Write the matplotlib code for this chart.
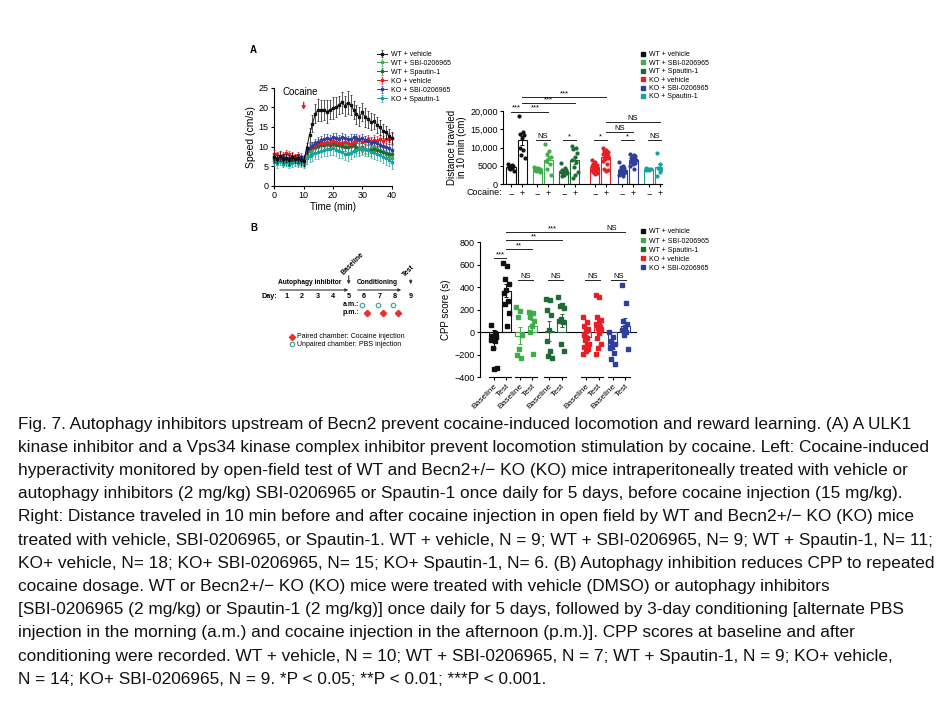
import numpy as np
import matplotlib.pyplot as plt
from matplotlib.lines import Line2D

plt.rcParams['font.family'] = ['Liberation Sans', 'DejaVu Sans']
plt.rcParams['axes.linewidth'] = 0.8
plt.rcParams['xtick.major.width'] = 0.8
plt.rcParams['ytick.major.width'] = 0.8
plt.rcParams['xtick.major.size'] = 2.5
plt.rcParams['ytick.major.size'] = 2.5
plt.rcParams['xtick.labelsize'] = 6.5
plt.rcParams['ytick.labelsize'] = 6.5

W, H = 945, 709

# ---------------- data ----------------
groups = ['WT + vehicle', 'WT + SBI-0206965', 'WT + Spautin-1',
          'KO + vehicle', 'KO + SBI-0206965', 'KO + Spautin-1']
colors = ['#111111', '#3dae49', '#1e6b34', '#e41f26', '#2e3f9c', '#17a2a0']

# A left: speed (cm/s) per minute, 0..40 min
time_min = list(range(41))
wt_veh_speed = [7.2, 6.8, 7.5, 6.9, 7.0, 6.6, 7.3, 6.8, 7.0, 6.5, 6.2,
                9.5, 13.0, 15.8, 18.4, 19.4, 19.2, 19.3, 18.9, 19.4, 19.8,
                20.0, 20.6, 21.3, 20.4, 21.2, 20.6, 19.4, 18.2, 17.6, 18.8,
                17.4, 16.9, 16.3, 16.4, 15.5, 14.9, 14.0, 13.6, 12.8, 12.2]
wt_sbi_speed = [6.5, 6.2, 6.8, 6.0, 6.4, 6.1, 6.6, 6.3, 6.0, 6.2, 5.8,
                8.0, 8.8, 9.2, 9.6, 10.0, 10.3, 10.5, 10.8, 10.6, 11.0,
                11.2, 10.9, 10.7, 10.3, 10.0, 10.4, 10.1, 9.6, 9.3, 9.0,
                9.4, 9.1, 9.6, 9.8, 9.3, 9.0, 8.6, 8.2, 7.6, 7.0]
wt_spa_speed = [6.8, 6.4, 6.9, 6.5, 6.2, 6.7, 6.3, 6.6, 6.4, 6.5, 6.0,
                9.0, 9.5, 9.8, 10.0, 10.2, 10.4, 10.3, 10.6, 10.5, 10.7,
                10.5, 10.4, 10.2, 10.0, 9.8, 10.1, 10.3, 9.9, 9.6, 9.8,
                9.4, 9.2, 9.0, 9.3, 9.0, 8.8, 8.6, 8.4, 8.2, 8.0]
ko_veh_speed = [8.2, 8.0, 7.6, 7.8, 8.3, 8.0, 7.7, 7.5, 7.9, 7.4, 7.0,
                8.5, 9.5, 10.0, 10.5, 10.8, 10.9, 11.0, 11.2, 11.0, 11.3,
                11.1, 11.0, 10.8, 11.2, 11.0, 10.7, 11.1, 11.4, 11.6, 11.2,
                11.5, 11.8, 11.3, 11.6, 11.4, 11.9, 11.5, 11.8, 12.0, 12.2]
ko_sbi_speed = [7.3, 7.0, 6.8, 7.2, 6.9, 7.1, 6.7, 7.0, 6.8, 7.2, 6.5,
                8.8, 9.6, 10.2, 10.8, 11.2, 11.6, 11.9, 12.2, 12.0, 12.4,
                12.2, 12.0, 12.3, 12.1, 11.8, 12.0, 12.3, 12.1, 11.9, 12.2,
                11.7, 11.4, 11.0, 11.2, 10.8, 10.5, 10.2, 10.0, 9.6, 9.2]
ko_spa_speed = [6.0, 5.8, 6.3, 5.6, 6.1, 5.4, 5.9, 6.2, 5.7, 6.0, 5.5,
                7.0, 7.5, 8.0, 8.3, 8.6, 8.9, 9.1, 9.3, 9.4, 9.6,
                9.2, 8.8, 8.5, 8.2, 8.0, 8.4, 8.8, 9.2, 9.5, 9.6,
                9.3, 9.0, 8.6, 8.5, 8.1, 7.8, 7.4, 7.0, 6.5, 6.0]

wt_veh_err = [1.2, 1.0, 1.3, 1.1, 1.0, 1.2, 1.1, 1.0, 1.2, 1.1, 1.3,
              1.5, 1.8, 2.2, 2.5, 2.8, 2.7, 2.6, 2.9, 2.5, 2.8,
              2.6, 2.4, 2.7, 2.5, 2.9, 2.6, 2.3, 2.5, 2.4, 2.2,
              2.3, 2.1, 2.2, 2.0, 2.1, 1.9, 1.8, 1.7, 1.6, 1.5]
wt_sbi_err = [1.0, 0.9, 1.1, 1.0, 0.8, 1.0, 1.1, 0.9, 1.0, 1.2, 1.0,
              1.3, 1.4, 1.5, 1.4, 1.6, 1.5, 1.4, 1.6, 1.5, 1.4,
              1.5, 1.6, 1.4, 1.5, 1.3, 1.4, 1.5, 1.3, 1.4, 1.2,
              1.3, 1.4, 1.3, 1.2, 1.3, 1.4, 1.2, 1.3, 1.4, 1.5]
wt_spa_err = [0.9, 1.0, 0.8, 1.1, 0.9, 1.0, 0.8, 0.9, 1.0, 0.9, 1.1,
              1.2, 1.3, 1.2, 1.4, 1.3, 1.2, 1.4, 1.3, 1.2, 1.3,
              1.4, 1.2, 1.3, 1.1, 1.2, 1.3, 1.2, 1.1, 1.3, 1.2,
              1.1, 1.2, 1.3, 1.1, 1.2, 1.0, 1.1, 1.2, 1.1, 1.0]
ko_veh_err = [0.8, 0.7, 0.9, 0.8, 0.7, 0.8, 0.9, 0.7, 0.8, 0.9, 0.8,
              0.9, 1.0, 1.1, 1.0, 1.1, 1.2, 1.0, 1.1, 1.2, 1.1,
              1.0, 1.2, 1.1, 1.0, 1.2, 1.1, 1.3, 1.2, 1.1, 1.2,
              1.3, 1.2, 1.1, 1.3, 1.2, 1.1, 1.3, 1.2, 1.4, 1.3]
ko_sbi_err = [0.8, 0.9, 0.7, 0.8, 0.9, 0.8, 0.7, 0.9, 0.8, 0.7, 0.9,
              1.0, 1.1, 1.0, 1.2, 1.1, 1.0, 1.2, 1.1, 1.0, 1.1,
              1.2, 1.0, 1.1, 1.2, 1.0, 1.1, 1.0, 1.2, 1.1, 1.0,
              1.1, 1.0, 1.2, 1.1, 1.0, 1.1, 1.2, 1.0, 1.1, 1.2]
ko_spa_err = [1.0, 1.2, 1.1, 0.9, 1.2, 1.0, 1.1, 1.3, 1.0, 1.2, 1.1,
              1.4, 1.5, 1.6, 1.5, 1.7, 1.6, 1.5, 1.7, 1.6, 1.8,
              1.6, 1.7, 1.5, 1.6, 1.7, 1.5, 1.6, 1.7, 1.8, 1.6,
              1.7, 1.5, 1.6, 1.7, 1.5, 1.6, 1.7, 1.8, 1.6, 1.7]

speeds = [wt_veh_speed, wt_sbi_speed, wt_spa_speed, ko_veh_speed, ko_sbi_speed, ko_spa_speed]
speed_errs = [wt_veh_err, wt_sbi_err, wt_spa_err, ko_veh_err, ko_sbi_err, ko_spa_err]

# A right: distance traveled in 10 min (cm), before (-) and after (+) cocaine
dist_pre = [
    [5400, 5100, 5000, 4800, 4700, 4500, 4300, 4000, 3600],
    [4700, 4500, 4300, 4100, 4000, 3800, 3600, 3500, 3200],
    [5800, 4300, 3900, 3700, 3500, 3400, 3200, 3000, 2900, 2600, 2200],
    [6500, 6000, 5600, 5300, 5100, 5000, 4800, 4600, 4500, 4400, 4300, 4100, 4000, 3800, 3500, 3200, 3000, 2700],
    [6000, 5000, 4600, 4300, 4000, 3800, 3700, 3500, 3400, 3300, 3200, 3000, 2800, 2600, 2300],
    [4300, 4200, 4100, 4000, 3900, 3800],
]
dist_post = [
    [18700, 14300, 13800, 13400, 12700, 10000, 9300, 8000, 7000],
    [11000, 9000, 8200, 7500, 6800, 6300, 5500, 4000, 2600],
    [10400, 10000, 9500, 8400, 7500, 6600, 6100, 4700, 3400, 2500, 1600],
    [9800, 9400, 9100, 8800, 8600, 8300, 8100, 7900, 7700, 7400, 7200, 7000, 6800, 6400, 5500, 4200, 3900, 3600],
    [8300, 8000, 7800, 7600, 7300, 7100, 6900, 6700, 6500, 6300, 6100, 5800, 5400, 4900, 4200],
    [8600, 5400, 4500, 4100, 3200, 2300],
]
dist_pre_mean = [4700, 4000, 3500, 4600, 3700, 4050]
dist_pre_sem = [250, 180, 300, 250, 250, 80]
dist_post_mean = [12000, 6700, 6500, 7300, 6500, 4700]
dist_post_sem = [1200, 900, 900, 450, 300, 900]

# B right: CPP score (s), baseline and test
cpp_groups = groups[:5]
cpp_base = [
    [65, -10, -30, -45, -55, -65, -80, -140, -320, -330],
    [225, 185, 140, -20, -150, -200, -230],
    [300, 290, 200, 150, 20, -80, -170, -210, -230],
    [140, 90, 60, 30, 10, -20, -50, -70, -100, -110, -130, -150, -170, -190],
    [0, -40, -80, -100, -120, -140, -180, -240, -280],
]
cpp_test = [
    [620, 590, 470, 430, 380, 350, 280, 250, 170, 60],
    [180, 175, 140, 100, 60, 0, -190],
    [310, 240, 230, 220, 120, 100, 90, -100, -170],
    [330, 310, 140, 110, 90, 70, 50, 40, 20, -10, -50, -100, -140, -190],
    [420, 260, 100, 70, 50, 20, 0, -20, -150],
]
cpp_base_mean = [-60, -30, 10, -45, -115]
cpp_base_sem = [80, 75, 90, 25, 30]
cpp_test_mean = [370, 55, 105, 45, 55]
cpp_test_sem = [55, 50, 55, 40, 70]

days = [1, 2, 3, 4, 5, 6, 7, 8, 9]

caption = [
    "Fig. 7. Autophagy inhibitors upstream of Becn2 prevent cocaine-induced locomotion and reward learning. (A) A ULK1",
    "kinase inhibitor and a Vps34 kinase complex inhibitor prevent locomotion stimulation by cocaine. Left: Cocaine-induced",
    "hyperactivity monitored by open-field test of WT and Becn2+/\u2212 KO (KO) mice intraperitoneally treated with vehicle or",
    "autophagy inhibitors (2 mg/kg) SBI-0206965 or Spautin-1 once daily for 5 days, before cocaine injection (15 mg/kg).",
    "Right: Distance traveled in 10 min before and after cocaine injection in open field by WT and Becn2+/\u2212 KO (KO) mice",
    "treated with vehicle, SBI-0206965, or Spautin-1. WT + vehicle, N = 9; WT + SBI-0206965, N= 9; WT + Spautin-1, N= 11;",
    "KO+ vehicle, N= 18; KO+ SBI-0206965, N= 15; KO+ Spautin-1, N= 6. (B) Autophagy inhibition reduces CPP to repeated",
    "cocaine dosage. WT or Becn2+/\u2212 KO (KO) mice were treated with vehicle (DMSO) or autophagy inhibitors",
    "[SBI-0206965 (2 mg/kg) or Spautin-1 (2 mg/kg)] once daily for 5 days, followed by 3-day conditioning [alternate PBS",
    "injection in the morning (a.m.) and cocaine injection in the afternoon (p.m.)]. CPP scores at baseline and after",
    "conditioning were recorded. WT + vehicle, N = 10; WT + SBI-0206965, N = 7; WT + Spautin-1, N = 9; KO+ vehicle,",
    "N = 14; KO+ SBI-0206965, N = 9. *P < 0.05; **P < 0.01; ***P < 0.001.",
]


def rect(x0, y0, x1, y1):
    # pixel box (y measured from top) -> figure fraction
    return [x0 / W, 1 - y1 / H, (x1 - x0) / W, (y1 - y0) / H]


def jitter(n, width):
    return ((np.arange(n) * 0.618) % 1 - 0.5) * width


def sig(ax, x0, x1, y, label, fs=5.5):
    ax.plot([x0, x1], [y, y], color='#222222', lw=0.7, clip_on=False)
    ax.text((x0 + x1) / 2, y, label, ha='center', va='bottom', fontsize=fs, clip_on=False)


fig = plt.figure(figsize=(W / 100, H / 100), dpi=100)

ov = fig.add_axes([0, 0, 1, 1])
ov.set_xlim(0, W)
ov.set_ylim(H, 0)
ov.axis('off')

# ---------------- A left: time course ----------------
ax1 = fig.add_axes(rect(274.3, 87.7, 391.7, 185.7))
order = [1, 2, 3, 4, 5, 0]
handles = {}
for i in order:
    h = ax1.errorbar(time_min, speeds[i], yerr=speed_errs[i], color=colors[i], marker='s',
                     ms=2.0, lw=0.7, elinewidth=0.5, capsize=1.0, capthick=0.5,
                     clip_on=False, zorder=3 + (2 if i == 0 else 0))
    handles[i] = h
ax1.set_xlim(0, 40)
ax1.set_ylim(0, 25)
ax1.set_xticks([0, 10, 20, 30, 40])
ax1.set_yticks([0, 5, 10, 15, 20, 25])
ax1.spines['top'].set_visible(False)
ax1.spines['right'].set_visible(False)
ax1.tick_params(pad=1.5)
ax1.set_xlabel('Time (min)', fontsize=7, labelpad=1)
ax1.set_ylabel('Speed (cm/s)', fontsize=7.5, labelpad=2)
ax1.annotate('', xy=(10, 18.6), xytext=(10, 22.0),
             arrowprops=dict(arrowstyle='-|>', color='#e41f26', lw=1.0, mutation_scale=5))
ax1.text(9, 23.8, 'Cocaine', ha='center', va='center', fontsize=7)

fig.legend([handles[i] for i in range(6)], groups, loc='upper left',
           bbox_to_anchor=(374 / W, 1 - 47.5 / H), frameon=False, fontsize=5,
           handlelength=1.4, handletextpad=0.5, labelspacing=0.28, borderpad=0)

# ---------------- A right: distance bars ----------------
ax2 = fig.add_axes(rect(503.3, 111, 662.5, 184))
centersA = [0.45, 2.85, 5.25, 8.05, 10.55, 12.95]
bw = 0.82
for i in range(6):
    xs = [centersA[i] - 0.5, centersA[i] + 0.5]
    for x, pts, m, s in [(xs[0], dist_pre[i], dist_pre_mean[i], dist_pre_sem[i]),
                         (xs[1], dist_post[i], dist_post_mean[i], dist_post_sem[i])]:
        ax2.bar(x, m, width=bw, fill=False, edgecolor=colors[i], lw=0.8, zorder=2)
        ax2.errorbar(x, m, yerr=s, fmt='none', ecolor=colors[i], elinewidth=0.7,
                     capsize=1.5, capthick=0.7, zorder=4)
        ax2.plot(x + jitter(len(pts), 0.55), pts, ls='none', marker='o', ms=2.0,
                 color=colors[i], zorder=3)
ax2.set_xlim(-0.75, 13.7)
ax2.set_ylim(0, 20000)
ax2.set_yticks([0, 5000, 10000, 15000, 20000])
ax2.set_yticklabels(['0', '5000', '10,000', '15,000', '20,000'])
xtA = []
for c in centersA:
    xtA += [c - 0.5, c + 0.5]
ax2.set_xticks(xtA)
ax2.set_xticklabels(['\u2212', '+'] * 6, fontsize=6.5)
ax2.tick_params(axis='x', length=2, pad=1.5)
ax2.tick_params(axis='y', pad=1.5)
ax2.spines['top'].set_visible(False)
ax2.spines['right'].set_visible(False)
ax2.set_ylabel('Distance traveled\nin 10 min (cm)', fontsize=7, labelpad=2, linespacing=1.0)
ov.text(502, 192.5, 'Cocaine:', ha='right', va='center', fontsize=6.5)

pA = xtA
sig(ax2, pA[0], pA[1], 19800, '***')
sig(ax2, pA[1], pA[3], 19800, '***')
sig(ax2, pA[1], pA[5], 22100, '***')
sig(ax2, pA[1], pA[7], 23750, '***')
sig(ax2, pA[7], pA[9], 14300, 'NS')
sig(ax2, pA[7], pA[11], 16900, 'NS')
for i, lab in enumerate(['NS', '*', '*', '*', 'NS']):
    c = centersA[i + 1]
    sig(ax2, c - 0.6, c + 0.6, 12000, lab)

legA = [Line2D([], [], ls='none', marker='s', ms=2.5, color=c) for c in colors]
fig.legend(legA, groups, loc='upper left', bbox_to_anchor=(637 / W, 1 - 48 / H),
           frameon=False, fontsize=5, handlelength=0.8, handletextpad=0.5,
           labelspacing=0.2, borderpad=0)

# ---------------- B right: CPP ----------------
ax3 = fig.add_axes(rect(480, 242.3, 637, 377.3))
centersB = [0.5, 2.55, 4.9, 7.85, 9.95]
bwB = 0.72
for i in range(5):
    xs = [centersB[i] - 0.5, centersB[i] + 0.5]
    for x, pts, m, s in [(xs[0], cpp_base[i], cpp_base_mean[i], cpp_base_sem[i]),
                         (xs[1], cpp_test[i], cpp_test_mean[i], cpp_test_sem[i])]:
        ax3.bar(x, m, width=bwB, fill=False, edgecolor=colors[i], lw=0.8, zorder=2)
        ax3.errorbar(x, m, yerr=s, fmt='none', ecolor=colors[i], elinewidth=0.7,
                     capsize=1.5, capthick=0.7, zorder=4)
        ax3.plot(x + jitter(len(pts), 0.5), pts, ls='none', marker='s', ms=2.2,
                 color=colors[i], zorder=3)
    ax3.plot([centersB[i] - 0.88, centersB[i] + 0.88], [-400, -400], color='black',
             lw=0.8, clip_on=False)
ax3.axhline(0, color='black', lw=0.8, zorder=1)
ax3.set_xlim(-1.1, 11.4)
ax3.set_ylim(-400, 800)
ax3.set_yticks(range(-400, 801, 200))
xtB = []
for c in centersB:
    xtB += [c - 0.5, c + 0.5]
ax3.set_xticks(xtB)
ax3.set_xticklabels(['Baseline', 'Test'] * 5, rotation=45, ha='right',
                    rotation_mode='anchor', fontsize=6)
ax3.tick_params(axis='x', length=2, pad=1.5)
ax3.tick_params(axis='y', pad=1.5)
for sp in ['top', 'right', 'bottom']:
    ax3.spines[sp].set_visible(False)
ax3.set_ylabel('CPP score (s)', fontsize=7, labelpad=2)

pB = xtB
sig(ax3, pB[0], pB[1], 660, '***')
sig(ax3, pB[1], pB[3], 740, '**')
sig(ax3, pB[1], pB[5], 820, '**')
sig(ax3, pB[1], pB[7], 890, '***')
sig(ax3, pB[7], pB[9], 890, 'NS')
for i in range(1, 5):
    c = centersB[i]
    sig(ax3, c - 0.6, c + 0.6, 465, 'NS')

legB = [Line2D([], [], ls='none', marker='s', ms=2.5, color=c) for c in colors[:5]]
fig.legend(legB, cpp_groups, loc='upper left', bbox_to_anchor=(637 / W, 1 - 225 / H),
           frameon=False, fontsize=5, handlelength=0.8, handletextpad=0.5,
           labelspacing=0.3, borderpad=0)

# ---------------- B left: schematic ----------------
ov.text(250, 50, 'A', fontsize=7, fontweight='bold', ha='left', va='center')
ov.text(250, 228, 'B', fontsize=7, fontweight='bold', ha='left', va='center')

day_x = [286.7 + (d - 1) * 15.5 for d in days]
ov.text(262, 296, 'Day:', fontsize=5.2, fontweight='bold', ha='left', va='center')
for d, x in zip(days, day_x):
    ov.text(x, 296, str(d), fontsize=5.2, fontweight='bold', ha='center', va='center')
arrow_kw = dict(arrowstyle='-|>', lw=0.8, color='#333333', mutation_scale=4)
ov.annotate('', xy=(351, 290), xytext=(277, 290), arrowprops=arrow_kw)
ov.annotate('', xy=(404, 290), xytext=(355, 290), arrowprops=arrow_kw)
ov.text(278, 283, 'Autophagy inhibitor', fontsize=4.8, fontweight='bold', ha='left', va='center')
ov.text(357, 283, 'Conditioning', fontsize=4.8, fontweight='bold', ha='left', va='center')
ov.annotate('', xy=(day_x[4], 287), xytext=(day_x[4], 273), arrowprops=arrow_kw)
ov.annotate('', xy=(day_x[8], 287), xytext=(day_x[8], 277), arrowprops=arrow_kw)
ov.text(day_x[4] - 4, 276, 'Baseline', fontsize=5, fontweight='bold', rotation=45,
        rotation_mode='anchor', ha='left', va='bottom')
ov.text(day_x[8] - 4, 278, 'Test', fontsize=5, fontweight='bold', rotation=45,
        rotation_mode='anchor', ha='left', va='bottom')
ov.text(359, 304.5, 'a.m.:', fontsize=5, fontweight='bold', ha='right', va='center')
ov.text(359, 313, 'p.m.:', fontsize=5, fontweight='bold', ha='right', va='center')
ov.plot([x - 2 for x in day_x[5:8]], [304.5] * 3, ls='none', marker='o', ms=3.2,
        mfc='white', mec='#4aa6a6', mew=0.9)
ov.plot([x + 3 for x in day_x[5:8]], [313] * 3, ls='none', marker='D', ms=3.2,
        color='#e8322b')
ov.plot([292], [337], ls='none', marker='D', ms=3.2, color='#e8322b')
ov.plot([292], [344], ls='none', marker='o', ms=3.2, mfc='white', mec='#4aa6a6', mew=0.9)
ov.text(297, 337, 'Paired chamber: Cocaine injection', fontsize=5, ha='left', va='center')
ov.text(297, 344, 'Unpaired chamber: PBS injection', fontsize=5, ha='left', va='center')

# ---------------- caption ----------------
for k, line in enumerate(caption):
    ov.text(18, 424 + 23.2 * k, line, fontsize=12.4, ha='left', va='center', color='#111111',
            family=['Liberation Sans Narrow', 'Liberation Sans'])

fig.savefig('out.png', dpi=100)
